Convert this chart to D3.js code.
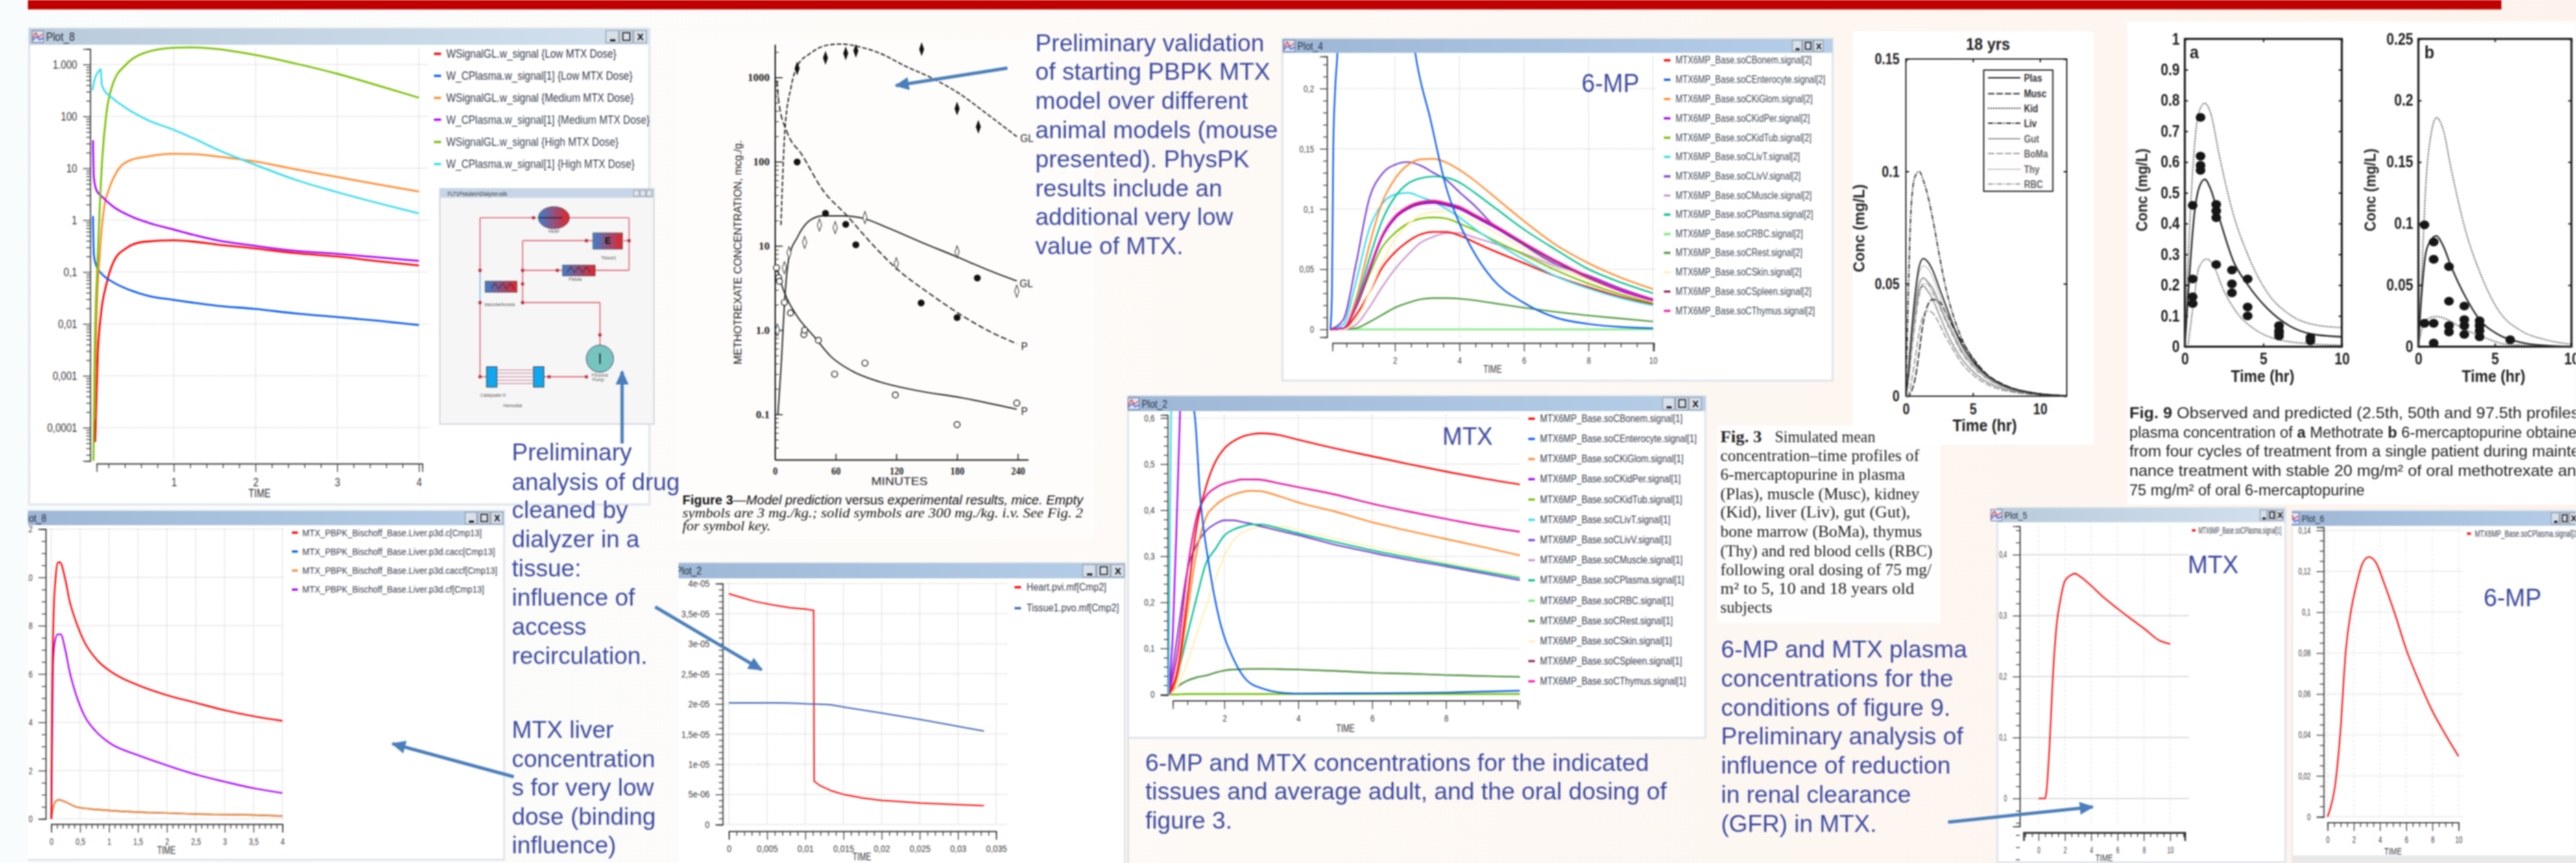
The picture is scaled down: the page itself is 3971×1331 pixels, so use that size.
<!DOCTYPE html>
<html>
<head>
<meta charset="utf-8">
<script src="https://cdnjs.cloudflare.com/ajax/libs/d3/7.8.5/d3.min.js"></script>
<style>
html, body { margin: 0; padding: 0; background: #fdf8f4; overflow: hidden; }
svg { display: block; }
text { font-family: "Liberation Sans", Arial, sans-serif; }
</style>
</head>
<body>
<div id="chart"></div>
<script>
// ---- Plot_8, dose comparison (log scale)
var p8Names = ["WSignalGL.w_signal {Low MTX Dose}", "W_CPlasma.w_signal[1] {Low MTX Dose}", "WSignalGL.w_signal {Medium MTX Dose}", "W_CPlasma.w_signal[1] {Medium MTX Dose}", "WSignalGL.w_signal {High MTX Dose}", "W_CPlasma.w_signal[1] {High MTX Dose}"];
var p8YTicks = [1000, 100, 10, 1, 0.1, 0.01, 0.001, 0.0001];
var p8YLabels = ["1.000", "100", "10", "1", "0,1", "0,01", "0,001", "0,0001"];
var p8XTicks = [1, 2, 3, 4];
var lowGLt = [0.037, 0.069, 0.106, 0.176, 0.266, 0.415, 0.628, 1, 1.27, 1.53, 1.99, 2.49, 2.99, 3.5, 4];
var lowGL = [0.000053, 0.00255, 0.0142, 0.0594, 0.162, 0.286, 0.382, 0.41, 0.382, 0.34, 0.286, 0.231, 0.2, 0.162, 0.134];
var plasmaT = [0.011, 0.021, 0.053, 0.122, 0.255, 0.468, 0.681, 1, 1.27, 1.53, 1.99, 2.49, 2.99, 3.5, 4];
var lowPlasma = [1.2, 0.215, 0.13, 0.091, 0.0638, 0.0446, 0.035, 0.029, 0.0252, 0.0224, 0.0195, 0.0159, 0.0136, 0.0115, 0.0095];
var medGLt = [0.032, 0.053, 0.096, 0.149, 0.202, 0.309, 0.468, 0.681, 1, 1.27, 1.53, 1.99, 2.49, 2.99, 3.5, 4];
var medGL = [0.000146, 0.0107, 0.248, 1.84, 3.77, 8.9, 14.3, 16.9, 19, 18.7, 16.9, 13.6, 9.55, 6.87, 4.88, 3.56];
var medPlasma = [34.6, 6.7, 3.77, 2.83, 1.84, 1.2, 0.9, 0.658, 0.508, 0.41, 0.321, 0.256, 0.225, 0.192, 0.164];
var highGLt = [0.016, 0.032, 0.069, 0.122, 0.176, 0.255, 0.415, 0.628, 1, 1.21, 1.53, 1.99, 2.49, 2.99, 3.5, 4];
var highGL = [0.000023, 0.00255, 0.187, 13.6, 117, 424, 1000, 1651, 2100, 2135, 1988, 1535, 1044, 670, 394, 229];
var highPlasmaT = [0.005, 0.032, 0.069, 0.106, 0.117, 0.149, 0.229, 0.415, 0.681, 1, 1.27, 1.53, 1.99, 2.49, 2.99, 3.5, 4];
var highPlasma = [318, 525, 700, 807, 424, 318, 239, 145, 85, 55, 36, 23, 11.8, 6, 3.5, 2.13, 1.35];

// ---- Figure 3, mice (log scale)
var fig3XTicks = [0, 60, 120, 180, 240];
var fig3YTicks = [1000, 100, 10, 1, 0.1];
var fig3YLabels = ["1000", "100", "10", "1.0", "0.1"];
var gl300T = [6, 10, 16, 22, 35, 51, 65, 84, 104, 129, 157, 182, 210, 239];
var gl300 = [17.7, 246, 769, 1359, 1929, 2405, 2489, 2300, 1929, 1359, 957, 645, 365, 198];
var gl3T = [3, 6, 10, 14, 22, 33, 47, 67, 88, 112, 145, 180, 210, 239];
var gl3 = [0.1, 0.344, 2.58, 7.4, 12.5, 19.4, 22.7, 22.7, 21.1, 16.3, 11, 7.4, 5.2, 3.83];
var p300T = [2, 4, 12, 26.5, 47, 71, 96, 120, 153, 186, 214, 239];
var p300 = [916, 496, 225, 122, 46.6, 23, 10.5, 5.4, 2.7, 1.46, 0.94, 0.69];
var p3T = [2, 6, 12, 22, 39, 55, 75.5, 104, 137, 186, 239];
var p3 = [5.7, 3.66, 2.37, 1.46, 0.83, 0.49, 0.33, 0.242, 0.195, 0.156, 0.115];
var solidDiamondT = [22, 50, 70, 80, 145, 180, 201];
var solidDiamond = [1278, 1706, 1929, 2070, 2163, 427, 259];
var openDiamondT = [2.5, 9.4, 14, 29.4, 44, 59.6, 89, 120, 180, 239];
var openDiamond = [1, 5.5, 8.3, 11, 17.7, 16.5, 21.7, 6.15, 8.5, 2.9];
var solidCircleT = [22, 50, 70, 80, 144.5, 180, 200];
var solidCircle = [99, 24.3, 18, 10.3, 2.1, 1.41, 4.15];
var openCircleT = [1.6, 3.7, 4.5, 9.4, 15.5, 28.6, 29.4, 43, 59, 89, 119, 180, 239];
var openCircle = [5.5, 4.2, 3.8, 2.13, 1.6, 0.887, 1, 0.757, 0.3, 0.406, 0.17, 0.0755, 0.136];

// ---- Plot_4, 6-MP tissues
var tissueSuffix = ["CBonem", "CEnterocyte", "CKiGlom", "CKidPer", "CKidTub", "CLivT", "CLivV", "CMuscle", "CPlasma", "CRBC", "CRest", "CSkin", "CSpleen", "CThymus"];
var p4YTicks = [0, 0.05, 0.1, 0.15, 0.2];
var p4YLabels = ["0", "0,05", "0,1", "0,15", "0,2"];
var p4XTicks = [2, 4, 6, 8, 10];
var p4T = [0, 0.4, 0.8, 1.2, 1.6, 2, 2.4, 2.8, 3.2, 3.6, 4, 4.5, 5, 6, 7, 8, 9, 10];
var mp6Bonem = [0, 0.0005, 0.012, 0.03, 0.051, 0.064, 0.073, 0.079, 0.081, 0.081, 0.078, 0.072, 0.066, 0.055, 0.044, 0.035, 0.027, 0.021];
var mp6KiGlom = [0, 0.001, 0.026, 0.069, 0.105, 0.125, 0.1365, 0.1412, 0.1416, 0.1385, 0.1325, 0.123, 0.112, 0.09, 0.07, 0.055, 0.043, 0.0334];
var mp6KidPer = [0, 0.001, 0.019, 0.048, 0.076, 0.092, 0.1, 0.104, 0.105, 0.103, 0.1, 0.093, 0.086, 0.071, 0.056, 0.043, 0.032, 0.024];
var mp6KidTub = [0, 0.0005, 0.018, 0.045, 0.068, 0.08, 0.088, 0.092, 0.093, 0.092, 0.088, 0.082, 0.075, 0.062, 0.049, 0.038, 0.029, 0.022];
var mp6LivT = [0, 0.004, 0.04, 0.083, 0.104, 0.112, 0.1135, 0.11, 0.106, 0.1, 0.093, 0.083, 0.074, 0.058, 0.044, 0.034, 0.026, 0.02];
var mp6LivV = [0, 0.008, 0.055, 0.108, 0.129, 0.1367, 0.139, 0.136, 0.13, 0.124, 0.114, 0.102, 0.088, 0.07, 0.054, 0.0447, 0.034, 0.025];
var mp6Muscle = [0, 0, 0.004, 0.018, 0.035, 0.05, 0.062, 0.072, 0.077, 0.08, 0.08, 0.076, 0.072, 0.063, 0.052, 0.042, 0.032, 0.024];
var mp6Plasma = [0, 0.001, 0.022, 0.058, 0.09, 0.11, 0.121, 0.1255, 0.127, 0.126, 0.122, 0.113, 0.103, 0.083, 0.066, 0.05, 0.039, 0.03];
var mp6RBC = [0, 0, 0, 0, 0, 0, 0, 0, 0, 0, 0, 0, 0, 0, 0, 0, 0, 0];
var mp6Rest = [0, 0, 0.001, 0.006, 0.012, 0.018, 0.022, 0.025, 0.026, 0.026, 0.0255, 0.024, 0.022, 0.018, 0.0145, 0.0115, 0.009, 0.0065];
var mp6Skin = [0, 0, 0.008, 0.03, 0.055, 0.075, 0.087, 0.095, 0.0975, 0.098, 0.095, 0.089, 0.082, 0.067, 0.053, 0.041, 0.031, 0.023];
var mp6Spleen = [0, 0.001, 0.02, 0.049, 0.077, 0.093, 0.101, 0.105, 0.106, 0.104, 0.101, 0.094, 0.087, 0.071, 0.056, 0.043, 0.033, 0.025];
var mp6Thymus = [0, 0.001, 0.02, 0.05, 0.078, 0.094, 0.102, 0.106, 0.107, 0.105, 0.102, 0.095, 0.088, 0.072, 0.057, 0.044, 0.033, 0.025];
var mp6EnteroT = [0, 0.05, 0.09, 0.15, 0.22, 0.5, 2, 2.63, 3.1, 3.6, 4, 4.38, 5, 6, 7, 8, 9, 10];
var mp6Entero = [0, 0.03, 0.15, 0.2, 0.23, 0.6, 0.4, 0.2297, 0.1746, 0.117, 0.088, 0.0674, 0.0427, 0.022, 0.0097, 0.0045, 0.002, 0.001];

// ---- Plot_2, MTX tissues
var mtxYTicks = [0, 0.1, 0.2, 0.3, 0.4, 0.5, 0.6];
var mtxYLabels = ["0", "0,1", "0,2", "0,3", "0,4", "0,5", "0,6"];
var mtxXTicks = [2, 4, 6, 8];
var mtxT = [0.5, 0.75, 1, 1.25, 1.5, 1.75, 2, 2.25, 2.5, 2.75, 3, 3.5, 4, 5, 6, 7, 8, 9, 10];
var mtxBonem = [0, 0.06, 0.21, 0.364, 0.45, 0.504, 0.534, 0.55, 0.56, 0.565, 0.567, 0.563, 0.553, 0.534, 0.517, 0.5, 0.484, 0.469, 0.456];
var mtxKiGlom = [0, 0.045, 0.18, 0.31, 0.384, 0.41, 0.425, 0.434, 0.44, 0.442, 0.441, 0.43, 0.417, 0.397, 0.374, 0.355, 0.3375, 0.32, 0.302];
var mtxKidTub = [0, 0, 0.001, 0.001, 0.001, 0.001, 0.001, 0.001, 0.001, 0.001, 0.001, 0.001, 0.001, 0.001, 0.001, 0.001, 0.001, 0.001, 0.001];
var mtxLivV = [0, 0.14, 0.27, 0.325, 0.355, 0.37, 0.378, 0.378, 0.374, 0.37, 0.365, 0.355, 0.346, 0.325, 0.308, 0.292, 0.278, 0.263, 0.248];
var mtxMuscle = [0, 0.018, 0.03, 0.037, 0.041, 0.047, 0.052, 0.054, 0.055, 0.0555, 0.0555, 0.055, 0.054, 0.051, 0.047, 0.045, 0.042, 0.04, 0.038];
var mtxPlasma = [0, 0.05, 0.13, 0.21, 0.284, 0.315, 0.345, 0.358, 0.365, 0.369, 0.369, 0.36, 0.35, 0.331, 0.313, 0.297, 0.282, 0.267, 0.2525];
var mtxRBC = [0, 0, 0.001, 0.001, 0.001, 0.001, 0.001, 0.001, 0.001, 0.001, 0.001, 0.001, 0.001, 0.001, 0.001, 0.001, 0.001, 0.001, 0.001];
var mtxRest = [0, 0.018, 0.03, 0.037, 0.041, 0.047, 0.052, 0.054, 0.055, 0.0555, 0.0555, 0.055, 0.054, 0.051, 0.047, 0.045, 0.042, 0.04, 0.038];
var mtxSkin = [0, 0.02, 0.07, 0.13, 0.19, 0.25, 0.3, 0.335, 0.352, 0.36, 0.364, 0.365, 0.357, 0.338, 0.32, 0.303, 0.287, 0.272, 0.2565];
var mtxThymus = [0, 0.1, 0.27, 0.385, 0.43, 0.448, 0.458, 0.463, 0.467, 0.467, 0.466, 0.458, 0.45, 0.434, 0.414, 0.397, 0.381, 0.366, 0.353];
var mtxEnteroT = [0.5, 1.18, 1.35, 1.59, 1.88, 2.24, 2.59, 3.06, 3.65, 4, 6, 8, 10];
var mtxEntero = [0.7, 0.615, 0.424, 0.278, 0.158, 0.078, 0.032, 0.012, 0.003, 0.002, 0.0027, 0.004, 0.008];
var mtxKidPerT = [0.5, 0.6, 0.7, 0.8, 0.85];
var mtxKidPer = [0, 0.12, 0.35, 0.614, 0.7];
var mtxLivTT = [0.49, 0.51, 0.53, 0.56, 0.58];
var mtxLivT = [0, 0.2, 0.4, 0.61, 0.7];

// ---- Plot_8, liver
var liverNames = ["MTX_PBPK_Bischoff_Base.Liver.p3d.c[Cmp13]", "MTX_PBPK_Bischoff_Base.Liver.p3d.cacc[Cmp13]", "MTX_PBPK_Bischoff_Base.Liver.p3d.caccf[Cmp13]", "MTX_PBPK_Bischoff_Base.Liver.p3d.cf[Cmp13]"];
var liverYTicks = [0, 2, 4, 6, 8, 10, 12];
var liverYLabels = ["0", "2", "4", "6", "8", "10", "12"];
var liverXTicks = [0, 0.5, 1, 1.5, 2, 2.5, 3, 3.5, 4];
var liverXLabels = ["0", "0,5", "1", "1,5", "2", "2,5", "3", "3,5", "4"];
var liverCT = [0, 0.015, 0.045, 0.075, 0.11, 0.15, 0.24, 0.32, 0.43, 0.58, 0.8, 1.07, 1.52, 1.98, 2.5, 3, 3.5, 4];
var liverC = [0, 4.95, 8.7, 9.95, 10.6, 10.63, 9.95, 9, 8.16, 7.3, 6.56, 6.04, 5.52, 5.14, 4.81, 4.5, 4.25, 4.06];
var liverCfT = [0, 0.03, 0.06, 0.11, 0.165, 0.24, 0.32, 0.43, 0.58, 0.77, 1, 1.5, 2, 2.5, 3, 3.5, 4];
var liverCf = [0, 6.37, 7.3, 7.64, 7.64, 7.03, 6.08, 5.14, 4.25, 3.63, 3.16, 2.64, 2.22, 1.84, 1.54, 1.27, 1.07];
var liverCaccT = [0, 0.03, 0.07, 0.13, 0.24, 0.43, 0.69, 1, 1.5, 2, 2.5, 3, 3.5, 4];
var liverCaccf = [0, 0.42, 0.71, 0.79, 0.71, 0.5, 0.41, 0.35, 0.28, 0.245, 0.2, 0.18, 0.16, 0.12];

// ---- Plot_2, recirculation
var recNames = ["Heart.pvi.mf[Cmp2]", "Tissue1.pvo.mf[Cmp2]"];
var recYTicks = [0, 5e-6, 1e-5, 1.5e-5, 2e-5, 2.5e-5, 3e-5, 3.5e-5, 4e-5];
var recYLabels = ["0", "5e-06", "1e-05", "1,5e-05", "2e-05", "2,5e-05", "3e-05", "3,5e-05", "4e-05"];
var recXTicks = [0, 0.005, 0.01, 0.015, 0.02, 0.025, 0.03, 0.035];
var recXLabels = ["0", "0,005", "0,01", "0,015", "0,02", "0,025", "0,03", "0,035"];
var heartT = [0, 0.00185, 0.0035, 0.006, 0.008, 0.0101, 0.0111, 0.01116, 0.0119, 0.0134, 0.015, 0.0175, 0.02, 0.0224, 0.025, 0.03, 0.0334];
var heart = [3.83e-5, 3.76e-5, 3.7e-5, 3.64e-5, 3.6e-5, 3.575e-5, 3.555e-5, 0.72e-5, 0.647e-5, 0.56e-5, 0.5e-5, 0.44e-5, 0.4e-5, 0.38e-5, 0.357e-5, 0.33e-5, 0.314e-5];
var tissueT = [0, 0.0064, 0.0111, 0.013, 0.015, 0.02, 0.025, 0.03, 0.0334];
var tissue = [2.02e-5, 2.02e-5, 2e-5, 1.99e-5, 1.95e-5, 1.85e-5, 1.745e-5, 1.63e-5, 1.55e-5];

// ---- Plot_5 and Plot_6, plasma with GFR reduction
var p5YTicks = [0, 0.1, 0.2, 0.3, 0.4];
var p5YLabels = ["0", "0,1", "0,2", "0,3", "0,4"];
var p5XTicks = [0, 2, 4, 6, 8, 10];
var p5T = [0, 0.5, 0.59, 0.84, 1.09, 1.38, 1.67, 2, 2.43, 2.76, 3.18, 3.9, 4.94, 5.98, 7, 8.07, 9.12, 10];
var p5V = [0, 0, 0.0093, 0.088, 0.2, 0.286, 0.327, 0.357, 0.366, 0.369, 0.364, 0.351, 0.33, 0.312, 0.295, 0.278, 0.26, 0.2535];
var p6YTicks = [0, 0.02, 0.04, 0.06, 0.08, 0.1, 0.12, 0.14];
var p6YLabels = ["0", "0,02", "0,04", "0,06", "0,08", "0,1", "0,12", "0,14"];
var p6T = [0, 0.21, 0.55, 0.97, 1.39, 1.8, 2.23, 2.65, 3.15, 3.7, 4.33, 5.17, 6, 7.06, 7.9, 8.95, 10];
var p6V = [0, 0.004, 0.014, 0.0407, 0.081, 0.101, 0.114, 0.1236, 0.127, 0.1242, 0.114, 0.0986, 0.0819, 0.065, 0.053, 0.0407, 0.0295];

// ---- Fig. 3, 18 yrs
var yrsNames = ["Plas", "Musc", "Kid", "Liv", "Gut", "BoMa", "Thy", "RBC"];
var yrsT = [0, 0.2, 0.4, 0.7, 1, 1.3, 1.6, 2, 2.5, 3, 3.5, 4, 5, 6, 7, 8, 9, 10, 12];
var yrsPlas = [0, 0.012, 0.027, 0.046, 0.058, 0.0612, 0.06, 0.056, 0.048, 0.04, 0.032, 0.025, 0.0155, 0.0095, 0.0057, 0.0033, 0.002, 0.001, 0.0002];
var yrsMusc = [0, 0, 0.002, 0.008, 0.02, 0.033, 0.04, 0.043, 0.042, 0.037, 0.031, 0.026, 0.017, 0.01, 0.006, 0.0035, 0.002, 0.001, 0.0002];
var yrsKid = [0, 0.01, 0.022, 0.037, 0.047, 0.049, 0.047, 0.043, 0.036, 0.029, 0.023, 0.018, 0.011, 0.0065, 0.0038, 0.0022, 0.0013, 0.0007, 0.0001];
var yrsLiv = [0, 0.05, 0.085, 0.098, 0.1, 0.096, 0.09, 0.079, 0.0625, 0.0475, 0.0365, 0.028, 0.0165, 0.0095, 0.0056, 0.0032, 0.0018, 0.0008, 0.0001];
var yrsGut = [0, 0.01, 0.023, 0.04, 0.05, 0.0526, 0.051, 0.048, 0.041, 0.034, 0.028, 0.022, 0.014, 0.0085, 0.005, 0.003, 0.0018, 0.001, 0.0002];
var yrsBoMa = [0, 0.001, 0.006, 0.017, 0.029, 0.036, 0.038, 0.037, 0.032, 0.026, 0.021, 0.016, 0.0095, 0.0055, 0.003, 0.0018, 0.001, 0.0006, 0.0001];
var yrsThy = [0, 0.011, 0.025, 0.043, 0.055, 0.058, 0.057, 0.053, 0.045, 0.037, 0.03, 0.024, 0.015, 0.0092, 0.0055, 0.0032, 0.0019, 0.001, 0.0002];
var yrsRBC = [0, 0.007, 0.018, 0.033, 0.045, 0.05, 0.05, 0.046, 0.04, 0.033, 0.027, 0.021, 0.013, 0.008, 0.0047, 0.0027, 0.0016, 0.0008, 0.0001];

// ---- Fig. 9, panels a and b
var f9aYTicks = [0, 0.1, 0.2, 0.3, 0.4, 0.5, 0.6, 0.7, 0.8, 0.9, 1];
var f9aYLabels = ["0", "0.1", "0.2", "0.3", "0.4", "0.5", "0.6", "0.7", "0.8", "0.9", "1"];
var f9bYTicks = [0, 0.05, 0.1, 0.15, 0.2, 0.25];
var f9bYLabels = ["0", "0.05", "0.1", "0.15", "0.2", "0.25"];
var f9XTicks = [0, 5, 10];
var f9aMedT = [0, 0.2, 0.6, 0.89, 1.27, 1.63, 2.2, 3.1, 4, 5.2, 6.66, 8.1, 10];
var f9aMed = [0, 0.159, 0.428, 0.514, 0.544, 0.514, 0.417, 0.277, 0.202, 0.127, 0.068, 0.041, 0.032];
var f9aHigh = [0, 0.267, 0.643, 0.761, 0.791, 0.761, 0.62, 0.428, 0.3, 0.18, 0.105, 0.073, 0.062];
var f9aLowT = [0.2, 0.6, 0.89, 1.4, 1.78, 2.5, 3.4, 4.3, 5.8, 8.1, 10];
var f9aLow = [0, 0.159, 0.256, 0.285, 0.267, 0.18, 0.105, 0.062, 0.025, 0.009, 0.005];
var f9aObsT = [0.5, 0.5, 0.5, 0.5, 1, 1, 1, 1, 2, 2, 2, 2, 3, 3, 3, 4, 4, 4, 6, 6, 6, 6, 8, 8];
var f9aObs = [0.22, 0.162, 0.14, 0.459, 0.745, 0.619, 0.589, 0.573, 0.462, 0.441, 0.419, 0.267, 0.249, 0.204, 0.175, 0.22, 0.129, 0.1, 0.068, 0.052, 0.045, 0.035, 0.03, 0.019];
var f9bT = [0, 0.2, 0.5, 0.85, 1.18, 1.58, 2.18, 3.1, 4, 5.2, 6.7, 8.2, 10];
var f9bMed = [0, 0.04, 0.077, 0.087, 0.09, 0.083, 0.064, 0.04, 0.022, 0.01, 0.0035, 0.001, 0];
var f9bHigh = [0, 0.053, 0.134, 0.174, 0.186, 0.178, 0.142, 0.0935, 0.061, 0.03, 0.013, 0.006, 0.002];
var f9bLowT = [0, 0.2, 0.5, 1.18, 1.9, 2.8, 4, 5.8, 10];
var f9bLow = [0, 0.013, 0.022, 0.0245, 0.022, 0.0155, 0.009, 0.002, 0];
var f9bObsT = [0.4, 0.4, 1, 1, 1, 1, 2, 2, 2, 2, 3, 3, 3, 3, 4, 4, 4, 4, 6];
var f9bObs = [0.099, 0.019, 0.085, 0.071, 0.019, 0.003, 0.065, 0.037, 0.017, 0.012, 0.033, 0.022, 0.017, 0.01, 0.021, 0.017, 0.013, 0.008, 0.0056];

// ---- Notes on the slide
var noteValidation = ["Preliminary validation", "of starting PBPK MTX", "model over different", "animal models (mouse", "presented). PhysPK", "results include an", "additional very low", "value of MTX."];
var noteDialyzer = ["Preliminary", "analysis of drug", "cleaned by", "dialyzer in a", "tissue:", "influence of", "access", "recirculation."];
var noteLiver = ["MTX liver", "concentration", "s for very low", "dose (binding", "influence)"];
var noteTissues = ["6-MP and MTX concentrations for the indicated", "tissues and average adult, and the oral dosing of", "figure 3."];
var notePlasma = ["6-MP and MTX plasma", "concentrations for the", "conditions of figure 9.", "Preliminary analysis of", "influence of reduction", "in renal clearance", "(GFR) in MTX."];
var capFig3 = ["Simulated mean", "concentration–time profiles of", "6-mercaptopurine in plasma", "(Plas), muscle (Musc), kidney", "(Kid), liver (Liv), gut (Gut),", "bone marrow (BoMa), thymus", "(Thy) and red blood cells (RBC)", "following oral dosing of 75 mg/", "m² to 5, 10 and 18 years old", "subjects"];

var RED = "#ff0000", BLUE = "#0a5cf0", ORANGE = "#ff8c30", PURPLE = "#aa00ff", LIME = "#78c000", CYAN = "#38dcec",
    VIOLET = "#7a44d0", MAUVE = "#cc98cc", TEAL = "#00c090", LGREEN = "#78ea78", DGREEN = "#4f9a3e", PALE = "#fff0b8",
    MAROON = "#8c2c5c", MAGENTA = "#f020b0", INK = "#3d4a9e", ARROW = "#4a7ebb";

var width = 3971, height = 1331;
var svg = d3.select("#chart").append("svg").attr("width", width).attr("height", height);
var defs = svg.append("defs");

var bgGrad = defs.append("linearGradient").attr("id", "bg");
bgGrad.append("stop").attr("offset", "0").attr("stop-color", "#f9fcfd");
bgGrad.append("stop").attr("offset", "0.35").attr("stop-color", "#fdfbf8");
bgGrad.append("stop").attr("offset", "1").attr("stop-color", "#fdf3ec");

var barGrad = defs.append("linearGradient").attr("id", "bar");
barGrad.append("stop").attr("offset", "0").attr("stop-color", "#9db7d6");
barGrad.append("stop").attr("offset", "1").attr("stop-color", "#b6cee8");

var barLight = defs.append("linearGradient").attr("id", "barLight");
barLight.append("stop").attr("offset", "0").attr("stop-color", "#b9cbdc");
barLight.append("stop").attr("offset", "1").attr("stop-color", "#d3e1ef");

var marker = defs.append("marker").attr("id", "arrowHead").attr("markerUnits", "userSpaceOnUse")
    .attr("markerWidth", 30).attr("markerHeight", 30).attr("refX", 20).attr("refY", 10).attr("orient", "auto");
marker.append("path").attr("d", "M0,0L22,10L0,20Z").attr("fill", ARROW);

svg.append("rect").attr("width", width).attr("height", height).attr("fill", "url(#bg)");

var root = svg.append("g").style("filter", "blur(0.8px)");
root.append("rect").attr("x", 43).attr("y", 0).attr("width", 3813).attr("height", 14.5).attr("fill", "#c00000");

var clipCount = 0;
function clipRect(x, y, w, h) {
  var id = "clip" + (clipCount++);
  defs.append("clipPath").attr("id", id).append("rect").attr("x", x).attr("y", y).attr("width", w).attr("height", h);
  return "url(#" + id + ")";
}

// text, squeezed sideways when a target width is given
function label(sel, str, x, y, o) {
  o = o || {};
  var t = sel.append("text").text(str)
      .style("font-family", o.font || null)
      .style("font-size", (o.size || 14) + "px")
      .style("font-weight", o.weight || null)
      .style("font-style", o.italic ? "italic" : null)
      .attr("fill", o.fill || "#333")
      .attr("text-anchor", o.anchor || "start")
      .attr("dominant-baseline", o.middle ? "central" : null);
  var sx = o.sx || 1;
  if (o.w) sx = o.w / t.node().getComputedTextLength();
  t.attr("transform", "translate(" + x + "," + y + ")" + (o.rotate ? " rotate(" + o.rotate + ")" : "") + " scale(" + sx + ",1)");
  return t;
}

function note(lines, widths, x, y0, step, size) {
  lines.forEach(function(d, i) {
    label(root, d, x, y0 + i * step, { size: size || 37, fill: INK, w: widths[i] });
  });
}

function arrow(x0, y0, x1, y1) {
  root.append("line").attr("x1", x0).attr("y1", y0).attr("x2", x1).attr("y2", y1)
      .attr("stroke", ARROW).attr("stroke-width", 5).attr("marker-end", "url(#arrowHead)");
}

function drawWindow(g, w, title, titleX) {
  g.append("rect").attr("x", w.x0).attr("y", w.y0).attr("width", w.x1 - w.x0).attr("height", w.y1 - w.y0)
      .attr("fill", "#fff").attr("stroke", "#dfe4ea").attr("stroke-width", 3);
  g.append("rect").attr("x", w.x0).attr("y", w.y0).attr("width", w.x1 - w.x0).attr("height", w.barH)
      .attr("fill", w.light ? "url(#barLight)" : "url(#bar)");
  var ix = titleX - 21, iy = w.y0 + w.barH / 2;
  g.append("rect").attr("x", ix).attr("y", iy - 9).attr("width", 17).attr("height", 18).attr("fill", "#dde6f2").attr("stroke", "#5d6f9c");
  g.append("path").attr("d", "M" + ix + "," + (iy + 3) + "l5,-9l5,7l6,-5").attr("fill", "none").attr("stroke", "#e03030").attr("stroke-width", 1.5);
  g.append("path").attr("d", "M" + ix + "," + (iy + 6) + "l6,-6l5,5l6,-3").attr("fill", "none").attr("stroke", "#2f50d8").attr("stroke-width", 1.5);
  label(g, title, titleX, iy + w.titleSize * 0.36, { size: w.titleSize, fill: "#2c3340", sx: 0.82 });
  ["_", "□", "X"].forEach(function(d, i) {
    var bx = w.btnX + i * w.btnW;
    g.append("rect").attr("x", bx).attr("y", iy - w.btnH / 2).attr("width", w.btnW - 2).attr("height", w.btnH)
        .attr("fill", "#d8e0ea").attr("stroke", "#7d8794");
    if (i == 0) g.append("rect").attr("x", bx + w.btnW * 0.3).attr("y", iy + w.btnH * 0.22).attr("width", w.btnW * 0.38).attr("height", 3).attr("fill", "#111");
    if (i == 1) g.append("rect").attr("x", bx + w.btnW * 0.22).attr("y", iy - w.btnH * 0.32).attr("width", w.btnW * 0.5).attr("height", w.btnH * 0.62).attr("fill", "none").attr("stroke", "#111").attr("stroke-width", 1.6);
    if (i == 2) label(g, "X", bx + w.btnW * 0.47, iy + w.btnH * 0.28, { size: w.btnH * 0.8, fill: "#111", anchor: "middle", weight: "bold" });
  });
}

// squeeze axis labels without moving them off their ticks
function styleAxis(a, size, sx, fill, axisWidth) {
  a.select(".domain").attr("stroke", "#333").attr("stroke-width", axisWidth || 1.4);
  a.selectAll(".tick line").attr("stroke", "#333").attr("stroke-width", 1.3);
  a.selectAll(".tick text").style("font-size", size + "px").attr("fill", fill || "#3c3c3c")
      .each(function() {
        var t = d3.select(this), px = +t.attr("x") || 0, py = +t.attr("y") || 0;
        t.attr("x", 0).attr("y", py).attr("transform", "translate(" + px + ",0) scale(" + sx + ",1)");
      });
}

function minorValues(lo, hi, step, skip) {
  return d3.range(lo, hi + step / 2, step).filter(function(v) {
    return !skip.some(function(s) { return Math.abs(s - v) < step / 100; });
  });
}

// one PhysPK plot window: chrome, grid, axes, curves, legend
function simPlot(c) {
  var g = root.append("g");
  if (c.clip) g.attr("clip-path", clipRect(c.clip[0], c.clip[1], c.clip[2], c.clip[3]));
  drawWindow(g, c.win, c.title, c.titleX);

  var x = c.x, y = c.y;
  var yRange = d3.scaleLinear().domain(x.range()).range(x.domain());
  var xAxisScale = x.copy().domain([yRange(c.axisX0), yRange(c.axisX1)]).range([c.axisX0, c.axisX1]);

  var gridColor = c.gridColor || "#c4c4c4";
  var grid = g.append("g").attr("fill", "none").attr("stroke", gridColor)
      .attr("stroke-width", c.gridWidth || 1.5).attr("stroke-dasharray", c.gridDash || "1.5,2.5");
  grid.selectAll(".gy").data(c.yTicks).enter().append("line")
      .attr("x1", c.axisY).attr("x2", c.gridRight)
      .attr("y1", function(d) { return y(d); }).attr("y2", function(d) { return y(d); });
  grid.selectAll(".gx").data(c.xTicks).enter().append("line")
      .attr("stroke", c.gridXColor || gridColor)
      .attr("stroke-width", c.gridXWidth || c.gridWidth || 1.5)
      .attr("stroke-dasharray", c.gridXDash || c.gridDash || "1.5,2.5")
      .attr("y1", c.top).attr("y2", c.gridBottom || c.axisBottom)
      .attr("x1", function(d) { return x(d); }).attr("x2", function(d) { return x(d); });

  var yAxisScale = y.copy();
  var yDomTop = y.invert(c.top), yDomBottom = y.invert(c.axisBottom);
  yAxisScale.domain([yDomBottom, yDomTop]).range([c.axisBottom, c.top]);

  var yAxis = g.append("g").attr("transform", "translate(" + c.axisY + ",0)")
      .call(d3.axisLeft(yAxisScale).tickValues(c.yTicks).tickSizeOuter(0).tickSize(11).tickPadding(9)
        .tickFormat(function(d, i) { return c.yLabels[i]; }));
  styleAxis(yAxis, c.tickSize, c.tickSx);
  var yMinor = g.append("g").attr("transform", "translate(" + c.axisY + ",0)")
      .call(d3.axisLeft(yAxisScale).tickValues(c.yMinor).tickSizeOuter(0).tickSize(6).tickFormat(""));
  styleAxis(yMinor, c.tickSize, c.tickSx);

  var xAxis = g.append("g").attr("transform", "translate(0," + c.axisXY + ")")
      .call(d3.axisBottom(xAxisScale).tickValues(c.xTicks).tickSizeOuter(0).tickSize(13).tickPadding(6)
        .tickFormat(function(d, i) { return (c.xLabels || c.xTicks)[i]; }));
  styleAxis(xAxis, c.tickSize, c.tickSx, null, c.xAxisWidth);
  xAxis.selectAll(".tick text").attr("dy", c.xLabelDy || "0.9em");
  var xMinor = g.append("g").attr("transform", "translate(0," + c.axisXY + ")")
      .call(d3.axisBottom(xAxisScale).tickValues(c.xMinor).tickSizeOuter(0).tickSize(7).tickFormat(""));
  styleAxis(xMinor, c.tickSize, c.tickSx, null, c.xAxisWidth);

  label(g, "TIME", c.timeX, c.timeY, { size: c.tickSize + 1, anchor: "middle", sx: 0.75, middle: true });

  var plot = g.append("g").attr("clip-path", clipRect(c.axisY - 6, c.win.y0 + c.win.barH, c.gridRight - c.axisY + 8, c.plotBottom - c.win.y0 - c.win.barH));
  c.series.forEach(function(s) {
    var line = d3.line()
        .x(function(d) { return x(d[0]); })
        .y(function(d) { return y(d[1]); })
        .curve(s.linear ? d3.curveLinear : d3.curveMonotoneX);
    plot.append("path").attr("d", line(d3.zip(s.t, s.v)))
        .attr("fill", "none").attr("stroke", s.color).attr("stroke-width", c.lineWidth);
  });

  if (c.legendNames) {
    var first = null;
    c.legendNames.forEach(function(name, i) {
      var ly = c.legendY[i];
      g.append("rect").attr("x", c.legendX).attr("y", ly - 1.7).attr("width", c.swatchW).attr("height", 3.4).attr("fill", c.legendColors[i]);
      var t = label(g, name, c.legendTextX, ly + c.legendSize * 0.34, { size: c.legendSize, fill: "#38404e" });
      if (first === null) first = c.legendFirstW / t.node().getComputedTextLength();
      t.attr("transform", "translate(" + c.legendTextX + "," + (ly + c.legendSize * 0.34) + ") scale(" + first + ",1)");
    });
  }
  return g;
}

// ---- Plot_8 top left
var p8Decades = [];
[1000, 100, 10, 1, 0.1, 0.01, 0.001, 0.0001, 0.00001].forEach(function(dec) {
  [2, 3, 4, 5, 6, 7, 8, 9].forEach(function(m) { p8Decades.push(dec * m); });
});
var p8y = d3.scaleLog().domain([0.0001, 1000]).range([659.6, 99.5]);
var p8Legend = [RED, BLUE, ORANGE, PURPLE, LIME, CYAN];
simPlot({
  win: { x0: 45, y0: 44, x1: 1001, y1: 778, barH: 25, titleSize: 19, btnX: 934, btnW: 21.5, btnH: 19, light: true }, title: "Plot_8", titleX: 71,
  x: d3.scaleLinear().domain([0, 4]).range([142, 645.7]), y: p8y,
  axisY: 139, top: 75.6, axisBottom: 711, axisX0: 149, axisX1: 651, axisXY: 715, gridRight: 660, gridBottom: 711, plotBottom: 713,
  yTicks: p8YTicks, yLabels: p8YLabels, yMinor: p8Decades.filter(function(v) { return v > 0.00003 && v < 2100; }),
  xTicks: p8XTicks, xMinor: minorValues(0.2, 4, 0.2, p8XTicks),
  tickSize: 18, tickSx: 0.84, timeX: 400, timeY: 761, lineWidth: 2.8,
  series: [
    { t: lowGLt, v: lowGL, color: RED }, { t: plasmaT, v: lowPlasma, color: BLUE },
    { t: medGLt, v: medGL, color: ORANGE }, { t: plasmaT, v: medPlasma, color: PURPLE },
    { t: highGLt, v: highGL, color: LIME }, { t: highPlasmaT, v: highPlasma, color: CYAN }
  ],
  legendNames: p8Names, legendColors: p8Legend, legendX: 669, legendTextX: 688, swatchW: 11,
  legendY: [83, 117, 151, 184.6, 219, 253], legendSize: 18, legendFirstW: 262.5
});

// inset model diagram from the PhysPK editor
(function() {
  var g = root.append("g");
  var X = function(z) { return z / 1.4933; }, Y = function(z) { return z / 2.01; };
  g.append("rect").attr("x", 678).attr("y", 291).attr("width", 330).attr("height", 363).attr("fill", "#f6f6f6").attr("stroke", "#c4c9cf").attr("stroke-width", 1.5);
  g.append("rect").attr("x", 678).attr("y", 291).attr("width", 330).attr("height", 14).attr("fill", "#c6d5e8");
  label(g, "FLT1PistulaVADialyzer.eds", 690, 302, { size: 9, fill: "#333", sx: 0.85 });
  [0, 1, 2].forEach(function(i) {
    g.append("rect").attr("x", 977 + i * 10).attr("y", 293.5).attr("width", 8).attr("height", 9).attr("fill", "#e4e8ee").attr("stroke", "#8894a2");
  });
  var wires = [
    [1105, 675, 1235, 675], [1310, 675, 1448, 675], [1448, 675, 1448, 838], [1448, 838, 1370, 838], [1295, 838, 1203, 838],
    [1203, 746, 1365, 746], [1203, 746, 1203, 940], [1435, 746, 1448, 746], [1105, 675, 1105, 1168], [1105, 1168, 1120, 1168],
    [1203, 938, 1381, 938], [1381, 938, 1381, 1070], [1252, 1168, 1350, 1168]
  ];
  wires.forEach(function(w) {
    g.append("line").attr("x1", X(w[0])).attr("y1", Y(w[1])).attr("x2", X(w[2])).attr("y2", Y(w[3])).attr("stroke", "#e06070").attr("stroke-width", 1.6);
  });
  g.append("line").attr("x1", X(1105)).attr("y1", Y(845)).attr("x2", X(1105)).attr("y2", Y(935)).attr("stroke", "#8cc4f0").attr("stroke-width", 2);
  var gradId = "inset";
  var ig = defs.append("linearGradient").attr("id", gradId);
  ig.append("stop").attr("offset", "0").attr("stop-color", "#3c7fd0");
  ig.append("stop").attr("offset", "1").attr("stop-color", "#e8232a");
  g.append("ellipse").attr("cx", X(1275)).attr("cy", Y(675)).attr("rx", 24).attr("ry", 17).attr("fill", "url(#" + gradId + ")").attr("stroke", "#555");
  g.append("line").attr("x1", X(1240)).attr("y1", Y(675)).attr("x2", X(1295)).attr("y2", Y(675)).attr("stroke", "#111").attr("stroke-width", 1.2);
  [[1365, 722, 68, 50], [1295, 822, 75, 33], [1117, 872, 73, 34]].forEach(function(b) {
    g.append("rect").attr("x", X(b[0])).attr("y", Y(b[1])).attr("width", X(b[2])).attr("height", Y(b[3])).attr("fill", "url(#" + gradId + ")").attr("stroke", "#555");
  });
  label(g, "E", X(1399), Y(756), { size: 14, fill: "#111", anchor: "middle", weight: "bold" });
  g.append("path").attr("d", "M" + X(1305) + "," + Y(845) + "l6,-9l6,9l6,-9l6,9l6,-9l6,9").attr("fill", "none").attr("stroke", "#222");
  g.append("path").attr("d", "M" + X(1130) + "," + Y(896) + "l6,-9l6,9l6,-9l6,9l6,-9l6,9").attr("fill", "none").attr("stroke", "#222");
  g.append("ellipse").attr("cx", X(1381)).attr("cy", Y(1112)).attr("rx", 21).attr("ry", 21).attr("fill", "#76c4c0").attr("stroke", "#446");
  g.append("line").attr("x1", X(1381)).attr("y1", Y(1095)).attr("x2", X(1381)).attr("y2", Y(1128)).attr("stroke", "#111").attr("stroke-width", 1.6);
  [[1120, 1137, 24, 63], [1228, 1137, 24, 63]].forEach(function(b) {
    g.append("rect").attr("x", X(b[0])).attr("y", Y(b[1])).attr("width", X(b[2])).attr("height", Y(b[3])).attr("fill", "#12a6ee").attr("stroke", "#333");
  });
  [1147, 1157, 1168, 1179, 1189].forEach(function(yz) {
    g.append("line").attr("x1", X(1144)).attr("x2", X(1228)).attr("y1", Y(yz)).attr("y2", Y(yz)).attr("stroke", "#c0708c").attr("stroke-width", 1);
  });
  [[1275, 722, "Heart"], [1401, 805, "Tissue1"], [1324, 871, "Fistula"], [1150, 949, "VascularAccess"], [1381, 1167, "FSource"], [1377, 1181, "Pump"], [1135, 1231, "Cdialysate=0"], [1180, 1262, "Hemodial"]].forEach(function(d) {
    label(g, d[2], X(d[0]), Y(d[1]), { size: 8, fill: "#555", anchor: "middle", sx: 0.85 });
  });
  [[1105, 838], [1105, 938], [1105, 1168], [1203, 838], [1203, 880], [1203, 938], [1381, 1038], [1350, 1168], [1264, 1168], [1228, 675], [1350, 746], [1448, 746], [1283, 838]].forEach(function(d) {
    g.append("circle").attr("cx", X(d[0])).attr("cy", Y(d[1])).attr("r", 2.6).attr("fill", "#b83040");
  });
})();

// ---- Figure 3 scan
(function() {
  var g = root.append("g");
  g.append("rect").attr("x", 1044).attr("y", 60).attr("width", 643).attr("height", 771).attr("fill", "#fefdfc");
  var x = d3.scaleLinear().domain([0, 240]).range([1194.5, 1569]);
  var y = d3.scaleLog().domain([0.1, 1000]).range([639, 119.4]);
  var serif = "Liberation Serif";
  var xAxisScale = x.copy().domain([0, x.invert(1585)]).range([1194.5, 1585]);
  var yAxisScale = y.copy().domain([y.invert(709), y.invert(68.6)]).range([709, 68.6]);
  var minors = [];
  [1000, 100, 10, 1, 0.1, 0.01].forEach(function(dec) {
    [2, 3, 4, 5, 6, 7, 8, 9].forEach(function(m) {
      if (dec * m > 0.03 && dec * m < 2400) minors.push(dec * m);
    });
  });
  var xa = g.append("g").attr("transform", "translate(0,709)")
      .call(d3.axisBottom(xAxisScale).tickValues(fig3XTicks).tickSizeInner(-9).tickSizeOuter(0).tickPadding(10));
  xa.selectAll(".tick text").attr("fill", "#222").style("font-size", "17px").style("font-weight", "bold").style("font-family", serif).attr("dy", "0.75em");
  xa.select(".domain").attr("stroke", "#111").attr("stroke-width", 2);
  xa.selectAll(".tick line").attr("stroke", "#111").attr("stroke-width", 1.5);
  xa.selectAll(".tick text").attr("transform", "scale(0.85,1)").attr("x", function() { return 0; });
  var ya = g.append("g").attr("transform", "translate(1194.5,0)")
      .call(d3.axisRight(yAxisScale).tickValues(fig3YTicks).tickSizeInner(12).tickSizeOuter(0).tickFormat(function(d, i) { return fig3YLabels[i]; }));
  ya.select(".domain").attr("stroke", "#111").attr("stroke-width", 2);
  ya.selectAll(".tick line").attr("stroke", "#111").attr("stroke-width", 1.5);
  ya.selectAll(".tick text").attr("text-anchor", "end").attr("x", -8).attr("fill", "#222").style("font-size", "17px").style("font-weight", "bold").style("font-family", serif);
  var ym = g.append("g").attr("transform", "translate(1194.5,0)")
      .call(d3.axisRight(yAxisScale).tickValues(minors).tickSizeInner(6).tickSizeOuter(0).tickFormat(""));
  ym.select(".domain").remove();
  ym.selectAll(".tick line").attr("stroke", "#222").attr("stroke-width", 1.1);

  var curves = [
    { t: gl300T, v: gl300, dash: "7,3" }, { t: gl3T, v: gl3, dash: null },
    { t: p300T, v: p300, dash: "9,4" }, { t: p3T, v: p3, dash: null }
  ];
  curves.forEach(function(c) {
    g.append("path").attr("d", d3.line().x(function(d) { return x(d[0]); }).y(function(d) { return y(d[1]); }).curve(d3.curveMonotoneX)(d3.zip(c.t, c.v)))
        .attr("fill", "none").attr("stroke", "#1a1a1a").attr("stroke-width", 1.9).attr("stroke-dasharray", c.dash);
  });
  var diamond = d3.symbol().type(d3.symbolDiamond).size(100);
  function diamonds(t, v, filled) {
    g.selectAll(".dm").data(d3.zip(t, v)).enter().append("path").attr("d", diamond())
        .attr("transform", function(d) { return "translate(" + x(d[0]) + "," + y(d[1]) + ") scale(0.62,1)"; })
        .attr("fill", filled ? "#111" : "#fff").attr("stroke", "#111").attr("stroke-width", 1.4);
  }
  function circles(t, v, filled) {
    g.selectAll(".cm").data(d3.zip(t, v)).enter().append("circle")
        .attr("cx", function(d) { return x(d[0]); }).attr("cy", function(d) { return y(d[1]); }).attr("r", 4.6)
        .attr("fill", filled ? "#111" : "#fff").attr("stroke", "#111").attr("stroke-width", 1.4);
  }
  diamonds(solidDiamondT, solidDiamond, true);
  diamonds(openDiamondT, openDiamond, false);
  circles(solidCircleT, solidCircle, true);
  circles(openCircleT, openCircle, false);

  [["GL", 1583, 219], ["GL", 1582, 443], ["P", 1579, 540], ["P", 1579, 640]].forEach(function(d) {
    label(g, d[0], d[1], d[2], { size: 17, anchor: "middle", fill: "#222", sx: 0.9 });
  });
  label(g, "MINUTES", 1386.5, 748, { size: 16, anchor: "middle", fill: "#222", w: 87 });
  label(g, "METHOTREXATE CONCENTRATION,  mcg./g.", 1143, 389, { size: 16, anchor: "middle", fill: "#222", rotate: -90, w: 346 });
  var cap1 = g.append("text").attr("x", 1052).attr("y", 778).attr("font-family", serif).attr("font-size", 21).attr("fill", "#111");
  cap1.append("tspan").attr("font-weight", "bold").text("Figure 3");
  cap1.append("tspan").text("—");
  cap1.append("tspan").attr("font-style", "italic").text("Model prediction ");
  cap1.append("tspan").text("versus ");
  cap1.append("tspan").attr("font-style", "italic").text("experimental results, mice. Empty");
  var capSx = 618 / cap1.node().getComputedTextLength();
  cap1.attr("x", 0).attr("y", 0).attr("transform", "translate(1052,778) scale(" + capSx + ",1)");
  label(g, "symbols are 3 mg./kg.; solid symbols are 300 mg./kg. i.v. See Fig. 2", 1052, 798, { size: 21, font: serif, italic: true, fill: "#111", w: 618 });
  label(g, "for symbol key.", 1052, 817.5, { size: 21, font: serif, italic: true, fill: "#111", w: 136 });
})();

note(noteValidation, [353, 362, 328, 374, 330, 288, 305, 228], 1596, 78.6, 44.8);

// ---- Plot_4, 6-MP
var tissueColors = [RED, BLUE, ORANGE, PURPLE, LIME, CYAN, VIOLET, MAUVE, TEAL, LGREEN, DGREEN, PALE, MAROON, MAGENTA];
var p4 = simPlot({
  win: { x0: 1977, y0: 60, x1: 2825, y1: 587, barH: 21.5, titleSize: 17, btnX: 2763, btnW: 16.5, btnH: 17 }, title: "Plot_4", titleX: 2000,
  x: d3.scaleLinear().domain([0, 10]).range([2050.8, 2548.2]), y: d3.scaleLinear().domain([0, 0.2]).range([508, 136.6]),
  axisY: 2045.7, top: 87, axisBottom: 520, axisX0: 2054, axisX1: 2549.5, axisXY: 529, gridRight: 2551, gridBottom: 522, plotBottom: 522,
  yTicks: p4YTicks, yLabels: p4YLabels, yMinor: minorValues(0, 0.22, 0.01, p4YTicks),
  xTicks: p4XTicks, xMinor: minorValues(0.5, 10, 0.5, p4XTicks),
  tickSize: 15, tickSx: 0.78, timeX: 2301, timeY: 569.5, lineWidth: 2.4,
  series: [
    { t: p4T, v: mp6RBC, color: LGREEN }, { t: p4T, v: mp6Rest, color: DGREEN }, { t: p4T, v: mp6Muscle, color: MAUVE },
    { t: p4T, v: mp6Bonem, color: RED }, { t: p4T, v: mp6KidTub, color: LIME }, { t: p4T, v: mp6Skin, color: PALE },
    { t: p4T, v: mp6LivT, color: CYAN }, { t: p4T, v: mp6LivV, color: VIOLET }, { t: p4T, v: mp6Plasma, color: TEAL },
    { t: p4T, v: mp6KiGlom, color: ORANGE }, { t: p4T, v: mp6KidPer, color: PURPLE }, { t: p4T, v: mp6Spleen, color: MAROON },
    { t: p4T, v: mp6Thymus, color: MAGENTA }, { t: mp6EnteroT, v: mp6Entero, color: BLUE, linear: false }
  ],
  legendNames: tissueSuffix.map(function(s) { return "MTX6MP_Base.so" + s + ".signal[2]"; }), legendColors: tissueColors,
  legendX: 2565, legendTextX: 2583, swatchW: 10,
  legendY: [93, 123, 152.7, 182.5, 212.4, 242, 272, 301.6, 331, 361, 390, 420, 449.7, 479.5], legendSize: 16, legendFirstW: 210
});
label(p4, "6-MP", 2438, 141.6, { size: 41, fill: INK, w: 89 });

// ---- Plot_2, MTX tissues
var mtxPlot = simPlot({
  win: { x0: 1739, y0: 611, x1: 2629, y1: 1138, barH: 23, titleSize: 17, btnX: 2563, btnW: 20.5, btnH: 19 }, title: "Plot_2", titleX: 1760,
  x: d3.scaleLinear().domain([2, 8]).range([1887.4, 2229]), y: d3.scaleLinear().domain([0, 0.6]).range([1071, 644.8]),
  axisY: 1800, top: 640, axisBottom: 1072, axisX0: 1808, axisX1: 2339.5, axisXY: 1080.5, gridRight: 2344, gridBottom: 1072, plotBottom: 1074,
  yTicks: mtxYTicks, yLabels: mtxYLabels, yMinor: minorValues(0, 0.6, 0.02, mtxYTicks),
  xTicks: mtxXTicks, xMinor: minorValues(1, 10, 0.5, mtxXTicks),
  tickSize: 15, tickSx: 0.78, timeX: 2074, timeY: 1123, lineWidth: 2.4,
  series: [
    { t: mtxT, v: mtxRBC, color: LGREEN }, { t: mtxT, v: mtxKidTub, color: LIME }, { t: mtxT, v: mtxMuscle, color: MAUVE },
    { t: mtxT, v: mtxRest, color: DGREEN }, { t: mtxT, v: mtxSkin, color: PALE }, { t: mtxT, v: mtxLivV, color: VIOLET },
    { t: mtxT, v: mtxPlasma, color: TEAL }, { t: mtxT, v: mtxKiGlom, color: ORANGE }, { t: mtxT, v: mtxThymus, color: MAROON },
    { t: mtxT, v: mtxThymus, color: MAGENTA }, { t: mtxT, v: mtxBonem, color: RED },
    { t: mtxKidPerT, v: mtxKidPer, color: PURPLE, linear: true }, { t: mtxLivTT, v: mtxLivT, color: CYAN, linear: true },
    { t: mtxEnteroT, v: mtxEntero, color: BLUE }
  ],
  legendNames: tissueSuffix.map(function(s) { return "MTX6MP_Base.so" + s + ".signal[1]"; }), legendColors: tissueColors,
  legendX: 2356, legendTextX: 2374, swatchW: 10,
  legendY: [645.8, 677, 708, 739, 770.5, 801.7, 833, 864, 895, 926.5, 957.7, 989, 1019.6, 1050.8], legendSize: 16, legendFirstW: 220
});
label(mtxPlot, "MTX", 2223.6, 686, { size: 38, fill: INK, w: 77.5 });
root.append("line").attr("x1", 1739).attr("x2", 1739).attr("y1", 1138).attr("y2", 1331).attr("stroke", "#d6d8da").attr("stroke-width", 2);

// ---- Plot_8, liver (cut by the slide at x = 43)
simPlot({
  clip: [43, 780, 740, 551],
  win: { x0: 10, y0: 788, x1: 777, y1: 1326, barH: 22, titleSize: 17, btnX: 717, btnW: 20, btnH: 18 }, title: "Plot_8", titleX: 32,
  x: d3.scaleLinear().domain([0, 4]).range([79, 435.3]), y: d3.scaleLinear().domain([0, 12]).range([1263, 816]),
  axisY: 70.3, top: 816, axisBottom: 1263, axisX0: 79, axisX1: 435.3, axisXY: 1271, gridRight: 438.6, gridBottom: 1263, plotBottom: 1265,
  yTicks: liverYTicks, yLabels: liverYLabels, yMinor: minorValues(0, 12, 0.5, liverYTicks),
  xTicks: liverXTicks, xLabels: liverXLabels, xMinor: minorValues(0, 4, 0.1, liverXTicks),
  tickSize: 15, tickSx: 0.72, timeX: 256.5, timeY: 1311.6, lineWidth: 2.4,
  series: [
    { t: liverCaccT, v: liverCaccf, color: BLUE }, { t: liverCaccT, v: liverCaccf, color: ORANGE },
    { t: liverCfT, v: liverCf, color: PURPLE }, { t: liverCT, v: liverC, color: RED }
  ],
  legendNames: liverNames, legendColors: [RED, BLUE, ORANGE, PURPLE], legendX: 450, legendTextX: 466, swatchW: 9,
  legendY: [821.5, 850.6, 880, 909.3], legendSize: 15, legendFirstW: 277
});

// ---- Plot_2, recirculation (cut at its left side)
simPlot({
  clip: [1046, 860, 693, 471],
  win: { x0: 1020, y0: 868.5, x1: 1734, y1: 1340, barH: 23.5, titleSize: 17, btnX: 1669, btnW: 22, btnH: 19 }, title: "Plot_2", titleX: 1042,
  x: d3.scaleLinear().domain([0, 0.035]).range([1123.6, 1535.6]), y: d3.scaleLinear().domain([0, 4e-5]).range([1271.6, 900]),
  axisY: 1114, top: 900, axisBottom: 1272, axisX0: 1123.6, axisX1: 1535.6, axisXY: 1282, gridRight: 1554, gridBottom: 1272, plotBottom: 1274,
  yTicks: recYTicks, yLabels: recYLabels, yMinor: minorValues(0, 4e-5, 1e-6, recYTicks),
  xTicks: recXTicks, xLabels: recXLabels, xMinor: minorValues(0, 0.035, 0.001, recXTicks),
  tickSize: 15, tickSx: 0.86, timeX: 1328.6, timeY: 1321, lineWidth: 2,
  series: [{ t: heartT, v: heart, color: RED, linear: true }, { t: tissueT, v: tissue, color: "#3a62b8" }],
  legendNames: recNames, legendColors: [RED, "#3a62b8"], legendX: 1564, legendTextX: 1582.6, swatchW: 10,
  legendY: [905.7, 938], legendSize: 16, legendFirstW: 123
});

note(noteDialyzer.slice(0, 2), [185, 259], 789, 710, 45.5);
note(noteDialyzer.slice(2), [179, 197, 107, 190, 115, 209], 789, 799, 45);
note(noteLiver, [157, 221, 219, 222, 161], 789, 1138, 44.5);
note(noteTissues, [777, 804, 134], 1765.5, 1189, 44.3);

// ---- Fig. 3 caption block, its text goes on top of the 18 yrs plot
root.append("rect").attr("x", 2647).attr("y", 656).attr("width", 345).attr("height", 305).attr("fill", "#fffefe");
note(notePlasma, [379.5, 358, 354, 373.5, 354, 293, 240], 2653, 1013.7, 44.9);

// frame with ticks on all four sides, as in the scanned matlab figures
function matFrame(g, x, y, xT, yT, yL, size) {
  var mx = x.range(), my = y.range();
  g.append("rect").attr("x", mx[0]).attr("y", my[1]).attr("width", mx[1] - mx[0]).attr("height", my[0] - my[1])
      .attr("fill", "none").attr("stroke", "#111").attr("stroke-width", size.frame);
  var b = g.append("g").attr("transform", "translate(0," + my[0] + ")")
      .call(d3.axisBottom(x).tickValues(xT).tickSizeInner(-5).tickSizeOuter(0).tickPadding(size.xPad));
  var t = g.append("g").attr("transform", "translate(0," + my[1] + ")")
      .call(d3.axisTop(x).tickValues(xT).tickSizeInner(-5).tickSizeOuter(0).tickFormat(""));
  var l = g.append("g").attr("transform", "translate(" + mx[0] + ",0)")
      .call(d3.axisLeft(y).tickValues(yT).tickSizeInner(-5).tickSizeOuter(0).tickPadding(size.yPad)
        .tickFormat(function(d, i) { return yL[i]; }));
  var r = g.append("g").attr("transform", "translate(" + mx[1] + ",0)")
      .call(d3.axisRight(y).tickValues(yT).tickSizeInner(-5).tickSizeOuter(0).tickFormat(""));
  [b, t, l, r].forEach(function(a) {
    a.select(".domain").remove();
    a.selectAll(".tick line").attr("stroke", "#111").attr("stroke-width", 2);
  });
  [b, l].forEach(function(a) {
    a.selectAll(".tick text").style("font-size", size.tick + "px").style("font-weight", "bold").attr("fill", "#222")
        .attr("transform", "scale(" + size.sx + ",1)");
  });
  l.selectAll(".tick text").attr("x", -size.yPad / size.sx - 1);
}

// ---- 18 yrs
(function() {
  var g = root.append("g");
  g.append("rect").attr("x", 2856).attr("y", 48.5).attr("width", 371.5).attr("height", 637.5).attr("fill", "#fff");
  var x = d3.scaleLinear().domain([0, 12]).range([2938, 3186]);
  var y = d3.scaleLinear().domain([0, 0.15]).range([611, 91]);
  matFrame(g, x, y, [0, 5, 10], [0, 0.05, 0.1, 0.15], ["0", "0.05", "0.1", "0.15"], { frame: 1.8, xPad: 11, yPad: 9, tick: 24, sx: 0.82 });
  var styles = [
    { v: yrsMusc, c: "#222", d: "10,3", w: 1.9 }, { v: yrsBoMa, c: "#999", d: "10,3", w: 1.9 }, { v: yrsRBC, c: "#999", d: "8,2,2,2", w: 1.9 },
    { v: yrsKid, c: "#222", d: "2,2", w: 1.9 }, { v: yrsGut, c: "#999", d: null, w: 2.2 }, { v: yrsThy, c: "#999", d: "2,2", w: 1.9 },
    { v: yrsPlas, c: "#222", d: null, w: 2 }, { v: yrsLiv, c: "#222", d: "8,2,2,2", w: 1.9 }
  ];
  styles.forEach(function(s) {
    g.append("path").attr("d", d3.line().x(function(d) { return x(d[0]); }).y(function(d) { return y(d[1]); }).curve(d3.curveMonotoneX)(d3.zip(yrsT, s.v)))
        .attr("fill", "none").attr("stroke", s.c).attr("stroke-width", s.w).attr("stroke-dasharray", s.d);
  });
  label(g, "18 yrs", 3064.5, 77, { size: 25, weight: "bold", anchor: "middle", fill: "#222", w: 68 });
  label(g, "Time (hr)", 3059.5, 665, { size: 25, weight: "bold", anchor: "middle", fill: "#222", w: 99 });
  label(g, "Conc (mg/L)", 2874, 352, { size: 23, weight: "bold", anchor: "middle", fill: "#222", rotate: -90, w: 136 });
  g.append("rect").attr("x", 3058).attr("y", 108).attr("width", 106.5).attr("height", 187).attr("fill", "#fff").attr("stroke", "#111").attr("stroke-width", 1.8);
  var legendDash = [[null, "#222"], ["10,3", "#222"], ["2,2", "#222"], ["8,2,2,2", "#222"], [null, "#999"], ["10,3", "#999"], ["2,2", "#999"], ["8,2,2,2", "#999"]];
  var legendRows = [120, 144.4, 167, 190, 214, 236.7, 261, 283.7];
  yrsNames.forEach(function(name, i) {
    g.append("line").attr("x1", 3064.5).attr("x2", 3114.5).attr("y1", legendRows[i]).attr("y2", legendRows[i])
        .attr("stroke", legendDash[i][1]).attr("stroke-width", 2).attr("stroke-dasharray", legendDash[i][0]);
    label(g, name, 3120, legendRows[i] + 6, { size: 17, weight: "bold", fill: i < 4 ? "#333" : "#666", sx: 0.8 });
  });
})();

// caption of Fig. 3, over the foot of the 18 yrs plot
(function() {
  var serif = "Liberation Serif";
  var widths = [155, 307, 285, 307, 293, 311, 327, 326, 299, 80];
  var ys = [682, 710.5, 740, 769.6, 798, 828, 858, 887, 916, 945];
  label(root, "Fig. 3", 2652, 682, { font: serif, size: 25, weight: "bold", fill: "#222", w: 64 });
  capFig3.forEach(function(d, i) {
    label(root, d, i == 0 ? 2736 : 2652, ys[i], { font: serif, size: 25, fill: "#222", w: widths[i] });
  });
})();

// ---- Fig. 9
(function() {
  var g = root.append("g").attr("clip-path", clipRect(3279, 33, 692, 745));
  g.append("rect").attr("x", 3279).attr("y", 33).attr("width", 692).attr("height", 745).attr("fill", "#fff");

  function panel(x, y, yT, yL, medT, med, high, lowT, low, obsT, obs, letter, lx, cx, tx) {
    matFrame(g, x, y, f9XTicks, yT, yL, { frame: 3, xPad: 10, yPad: 7, tick: 25, sx: 0.85 });
    var line = d3.line().x(function(d) { return x(d[0]); }).y(function(d) { return y(d[1]); }).curve(d3.curveMonotoneX);
    g.append("path").attr("d", line(d3.zip(medT, med))).attr("fill", "none").attr("stroke", "#222").attr("stroke-width", 2.4);
    g.append("path").attr("d", line(d3.zip(medT, high))).attr("fill", "none").attr("stroke", "#444").attr("stroke-width", 2).attr("stroke-dasharray", "2,2");
    g.append("path").attr("d", line(d3.zip(lowT, low))).attr("fill", "none").attr("stroke", "#444").attr("stroke-width", 2).attr("stroke-dasharray", "2,2");
    g.selectAll(".obs").data(d3.zip(obsT, obs)).enter().append("ellipse")
        .attr("cx", function(d) { return x(d[0]); }).attr("cy", function(d) { return y(d[1]); })
        .attr("rx", 7.5).attr("ry", 6.8).attr("fill", "#161616");
    label(g, letter, lx, 90, { size: 28, weight: "bold", anchor: "middle", fill: "#222", sx: 0.9 });
    label(g, "Time (hr)", tx, 589, { size: 25, weight: "bold", anchor: "middle", fill: "#222", w: 98 });
    label(g, "Conc (mg/L)", cx, 293, { size: 23, weight: "bold", anchor: "middle", fill: "#222", rotate: -90, w: 128 });
  }
  panel(d3.scaleLinear().domain([0, 10]).range([3368, 3610]), d3.scaleLinear().domain([0, 1]).range([534.7, 60]),
      f9aYTicks, f9aYLabels, f9aMedT, f9aMed, f9aHigh, f9aLowT, f9aLow, f9aObsT, f9aObs, "a", 3382.6, 3310, 3488);
  panel(d3.scaleLinear().domain([0, 10]).range([3728, 3964]), d3.scaleLinear().domain([0, 0.25]).range([534.7, 60]),
      f9bYTicks, f9bYLabels, f9bT, f9bMed, f9bHigh, f9bLowT, f9bLow, f9bObsT, f9bObs, "b", 3745, 3662, 3844);

  var serif = "Liberation Serif";
  function capLine(parts, y, w) {
    var t = g.append("text").attr("font-family", serif).attr("font-size", 24).attr("fill", "#222");
    parts.forEach(function(p) {
      var s = t.append("tspan").text(p[0]);
      if (p[1]) s.attr("font-weight", "bold");
    });
    t.attr("transform", "translate(3282.5," + y + ") scale(" + (w / t.node().getComputedTextLength()) + ",1)");
  }
  capLine([["Fig. 9", true], ["  Observed and predicted (2.5th, 50th and 97.5th profiles of"]], 645, 722);
  capLine([["plasma concentration of "], ["a", true], [" Methotrate "], ["b", true], [" 6-mercaptopurine obtained"]], 675, 703);
  capLine([["from four cycles of treatment from a single patient during mainte-"]], 704, 703);
  capLine([["nance treatment with stable 20 mg/m² of oral methotrexate and"]], 733.7, 703);
  capLine([["75 mg/m² of oral 6-mercaptopurine"]], 763.7, 363);
})();

// ---- Plot_5
var p5Plot = simPlot({
  win: { x0: 3079, y0: 783.5, x1: 3523, y1: 1330, barH: 22, titleSize: 15, btnX: 3484, btnW: 12.5, btnH: 16, light: true }, title: "Plot_5", titleX: 3090,
  x: d3.scaleLinear().domain([0, 10]).range([3142.5, 3345.4]), y: d3.scaleLinear().domain([0, 0.4]).range([1231.5, 855.5]),
  axisY: 3113.7, top: 811.6, axisBottom: 1274.7, axisX0: 3119.6, axisX1: 3368, axisXY: 1284, gridRight: 3374, gridBottom: 1274.7, plotBottom: 1276,
  gridColor: "#dcdcdc", gridWidth: 2, gridDash: "none", gridXColor: "#e0e0e0", gridXWidth: 1.3, gridXDash: "3,4", xAxisWidth: 2.6,
  yTicks: p5YTicks, yLabels: p5YLabels, yMinor: minorValues(-0.1, 0.44, 0.02, p5YTicks),
  xTicks: p5XTicks, xMinor: minorValues(-1, 11, 0.5, p5XTicks),
  tickSize: 14, tickSx: 0.62, timeX: 3243.6, timeY: 1323, lineWidth: 2.1,
  series: [{ t: p5T, v: p5V, color: RED }],
  legendNames: ["MTX6MP_Base.soCPlasma.signal[1]"], legendColors: [RED], legendX: 3379, legendTextX: 3389, swatchW: 5.5,
  legendY: [818], legendSize: 14, legendFirstW: 128
});
label(p5Plot, "MTX", 3372.6, 884, { size: 39, fill: INK, w: 78 });

// ---- Plot_6
var p6Plot = simPlot({
  clip: [3533, 780, 438, 551],
  win: { x0: 3533, y0: 788, x1: 3990, y1: 1321, barH: 23, titleSize: 15, btnX: 3933, btnW: 14, btnH: 17 }, title: "Plot_6", titleX: 3548,
  x: d3.scaleLinear().domain([0, 10]).range([3588, 3790]), y: d3.scaleLinear().domain([0, 0.14]).range([1259.6, 818]),
  axisY: 3582, top: 813, axisBottom: 1260, axisX0: 3588, axisX1: 3790, axisXY: 1268.4, gridRight: 3797, gridBottom: 1260, plotBottom: 1262,
  gridColor: "#d8d8d8", gridWidth: 1.6, gridDash: "1.5,1.5", gridXColor: "#e0e0e0", gridXWidth: 1.2, gridXDash: "3,4",
  yTicks: p6YTicks, yLabels: p6YLabels, yMinor: minorValues(0, 0.14, 0.005, p6YTicks),
  xTicks: p5XTicks, xMinor: minorValues(0, 10, 0.5, p5XTicks),
  tickSize: 14, tickSx: 0.7, timeX: 3689, timeY: 1313, lineWidth: 2.1,
  series: [{ t: p6T, v: p6V, color: RED }],
  legendNames: ["MTX6MP_Base.soCPlasma.signal[2]"], legendColors: [RED], legendX: 3803, legendTextX: 3815, swatchW: 6,
  legendY: [823], legendSize: 14, legendFirstW: 160
});
label(p6Plot, "6-MP", 3828.5, 934.6, { size: 39, fill: INK, w: 89 });
root.append("rect").attr("x", 3533).attr("y", 1321).attr("width", 438).attr("height", 10).attr("fill", "#e8e8e8");

// arrows lie over everything
arrow(959, 684, 959, 573);
arrow(1553, 105, 1381, 132);
arrow(792, 1198, 605, 1147);
arrow(1010, 936, 1174, 1033);
arrow(3003, 1268, 3226, 1244.5);
</script>
</body>
</html>
